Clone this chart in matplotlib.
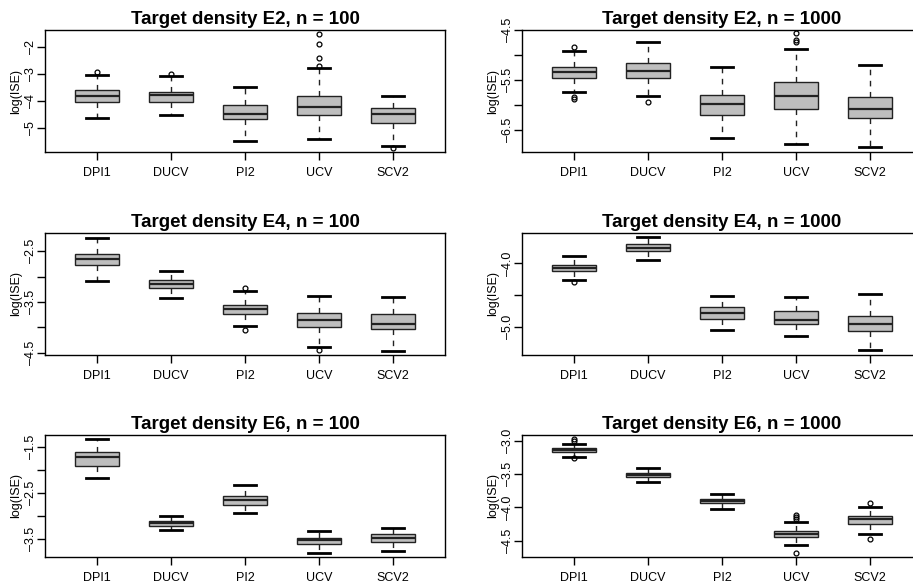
import matplotlib
matplotlib.use("Agg")
import matplotlib.pyplot as plt
import numpy as np

plt.rcParams['font.family'] = ['Liberation Sans', 'DejaVu Sans']

methods = ["DPI1", "DUCV", "PI2", "UCV", "SCV2"]
titles = ["Target density E2, n = 100", "Target density E2, n = 1000",
          "Target density E4, n = 100", "Target density E4, n = 1000",
          "Target density E6, n = 100", "Target density E6, n = 1000"]

# box summaries of log(ISE), one row per panel, one entry per method
whisk_lo = [[-4.63, -4.51, -5.46, -5.41, -5.64],
            [-5.75, -5.82, -6.67, -6.79, -6.85],
            [-3.09, -3.43, -3.97, -4.39, -4.46],
            [-4.26, -3.94, -5.06, -5.15, -5.37],
            [-2.17, -3.32, -2.95, -3.81, -3.78],
            [-3.245, -3.625, -4.02, -4.57, -4.405]]
q1 = [[-4.03, -4.03, -4.67, -4.52, -4.81],
      [-5.47, -5.47, -6.21, -6.08, -6.27],
      [-2.78, -3.23, -3.74, -4.00, -4.04],
      [-4.12, -3.80, -4.88, -4.96, -5.07],
      [-1.91, -3.22, -2.77, -3.62, -3.57],
      [-3.165, -3.545, -3.94, -4.44, -4.25]]
med = [[-3.80, -3.77, -4.46, -4.22, -4.47],
       [-5.35, -5.33, -5.99, -5.83, -6.08],
       [-2.66, -3.14, -3.64, -3.86, -3.93],
       [-4.08, -3.75, -4.79, -4.89, -4.96],
       [-1.73, -3.15, -2.66, -3.54, -3.49],
       [-3.135, -3.51, -3.90, -4.395, -4.18]]
q3 = [[-3.59, -3.64, -4.13, -3.81, -4.24],
      [-5.24, -5.17, -5.81, -5.55, -5.85],
      [-2.55, -3.07, -3.55, -3.71, -3.74],
      [-4.03, -3.70, -4.69, -4.75, -4.83],
      [-1.62, -3.11, -2.57, -3.48, -3.41],
      [-3.11, -3.48, -3.88, -4.35, -4.13]]
whisk_hi = [[-3.03, -3.07, -3.47, -2.75, -3.79],
            [-4.92, -4.74, -5.25, -4.89, -5.21],
            [-2.23, -2.89, -3.28, -3.38, -3.41],
            [-3.89, -3.59, -4.52, -4.54, -4.48],
            [-1.34, -3.00, -2.34, -3.34, -3.26],
            [-3.055, -3.41, -3.80, -4.225, -3.995]]
outliers = [[[-2.91], [-2.99], [], [-1.51, -1.89, -2.40, -2.70], [-5.73]],
            [[-4.85, -5.85, -5.88], [-5.95], [], [-4.57, -4.70, -4.74], []],
            [[], [], [-3.22, -4.06], [-4.44], []],
            [[-4.30], [], [], [], []],
            [[], [], [], [], []],
            [[-2.975, -3.01, -3.265], [], [], [-4.11, -4.15, -4.18, -4.68],
             [-3.93, -4.47]]]

ylims = [(-5.88, -1.36), (-6.95, -4.5), (-4.545, -2.14),
         (-5.45, -3.52), (-3.90, -1.245), (-4.745, -2.915)]
yticks = [[-5, -4, -3, -2],
          [-6.5, -6.0, -5.5, -5.0, -4.5],
          [-4.5, -4.0, -3.5, -3.0, -2.5],
          [-5.0, -4.5, -4.0],
          [-3.5, -3.0, -2.5, -2.0, -1.5],
          [-4.5, -4.0, -3.5, -3.0]]
# only these ticks get a label, the rest stay bare
ylabeled = [[-5, -4, -3, -2],
            [-6.5, -5.5, -4.5],
            [-4.5, -3.5, -2.5],
            [-5.0, -4.0],
            [-3.5, -2.5, -1.5],
            [-4.5, -4.0, -3.5, -3.0]]
yfmt = ["%g", "%.1f", "%.1f", "%.1f", "%.1f", "%.1f"]

W, H = 913, 585
fig = plt.figure(figsize=(W / 100, H / 100), dpi=100)

lefts = [45, 522]
tops = [30, 233, 435]
aw, ah = 400, 122

for k in range(6):
    r, c = divmod(k, 2)
    x0, y0 = lefts[c], tops[r]
    ax = fig.add_axes([x0 / W, 1 - (y0 + ah) / H, aw / W, ah / H])

    stats = []
    for j, m in enumerate(methods):
        stats.append(dict(label=m, whislo=whisk_lo[k][j], q1=q1[k][j],
                          med=med[k][j], q3=q3[k][j], whishi=whisk_hi[k][j],
                          fliers=np.array(outliers[k][j])))
    ax.bxp(stats, positions=range(1, 6), widths=0.6, patch_artist=True,
           boxprops=dict(facecolor="#bebebe", edgecolor="#222222", linewidth=1.0),
           medianprops=dict(color="#222222", linewidth=1.6),
           whiskerprops=dict(color="#222222", linewidth=1.0, linestyle=(0, (4, 4))),
           capprops=dict(color="black", linewidth=2.0),
           capwidths=0.3,
           flierprops=dict(marker="o", markersize=3.5, markerfacecolor="none",
                           markeredgecolor="black", markeredgewidth=0.9))

    ax.set_xlim(0.3, 5.7)
    ax.set_ylim(*ylims[k])
    ax.set_yticks(yticks[k])
    labels = [(yfmt[k] % t).replace("-", "\u2013") if t in ylabeled[k] else ""
              for t in yticks[k]]
    ax.set_yticklabels(labels, rotation=90, va="center", fontsize=9)
    ax.set_xticks(range(1, 6))
    ax.set_xticklabels(methods, fontsize=9)
    ax.tick_params(axis="both", direction="out", length=6, width=1.0, color="black")
    ax.tick_params(axis="x", pad=5)
    ax.tick_params(axis="y", pad=0)
    for s in ax.spines.values():
        s.set_linewidth(1.0)
    ax.set_ylabel("log(ISE)", fontsize=9, labelpad=2)
    ax.set_title(titles[k], fontsize=13.5, fontweight="bold", pad=4)

fig.savefig("out.png", dpi=100)
